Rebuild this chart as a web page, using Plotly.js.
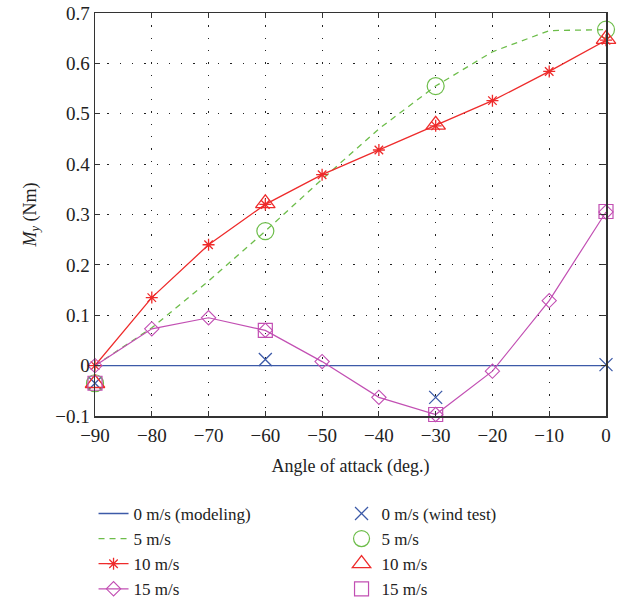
<!DOCTYPE html>
<html><head><meta charset="utf-8">
<script src="https://cdn.plot.ly/plotly-3.0.1.min.js"></script>
<style>html,body{margin:0;padding:0;background:#fff}#chart{width:632px;height:610px}</style>
</head><body><div id="chart"></div>
<script>
const angles = [-90, -80, -70, -60, -50, -40, -30, -20, -10, 0];
const model0 = [0, 0, 0, 0, 0, 0, 0, 0, 0, 0];
const model5 = [0, 0.075, 0.168, 0.267, 0.37, 0.47, 0.555, 0.623, 0.665, 0.667];
const model10 = [0, 0.135, 0.24, 0.32, 0.379, 0.428, 0.476, 0.526, 0.584, 0.646];
const model15 = [0, 0.073, 0.095, 0.07, 0.008, -0.063, -0.097, -0.011, 0.129, 0.305];
const testAngles = [-90, -60, -30, 0];
const test0 = [-0.035, 0.012, -0.063, 0.002];
const test5 = [-0.035, 0.267, 0.555, 0.667];
const test10 = [-0.035, 0.322, 0.478, 0.648];
const test15 = [-0.035, 0.07, -0.097, 0.306];
const xTicks = [-90, -80, -70, -60, -50, -40, -30, -20, -10, 0];
const yTicks = [-0.1, 0, 0.1, 0.2, 0.3, 0.4, 0.5, 0.6, 0.7];

const cBlue = '#3c5aa8', cGreen = '#6dbd4a', cRed = '#ee2b2b', cMag = '#c24fb3';

const traces = [
  {x: angles, y: model0, mode: 'lines', name: '0 m/s (modeling)', line: {color: cBlue, width: 1.3}},
  {x: testAngles, y: test0, mode: 'markers', name: '0 m/s (wind test)', marker: {symbol: 'x-thin-open', size: 13, color: cBlue, line: {color: cBlue, width: 1.3}}},
  {x: angles, y: model5, mode: 'lines', name: '5 m/s', line: {color: cGreen, width: 1.3, dash: '6px,5px'}},
  {x: testAngles, y: test5, mode: 'markers', name: '5 m/s', marker: {symbol: 'circle-open', size: 17, color: cGreen, line: {color: cGreen, width: 1.2}}},
  {x: angles, y: model10, mode: 'lines+markers', name: '10 m/s', line: {color: cRed, width: 1.3}, marker: {symbol: 'asterisk-open', size: 10, color: cRed, line: {color: cRed, width: 1.3}}},
  {x: testAngles, y: test10, mode: 'markers', name: '10 m/s', marker: {symbol: 'triangle-up-open', size: 17, color: cRed, line: {color: cRed, width: 1.3}}},
  {x: angles, y: model15, mode: 'lines+markers', name: '15 m/s', line: {color: cMag, width: 1.2}, marker: {symbol: 'diamond-open', size: 11, color: cMag, line: {color: cMag, width: 1.1}}},
  {x: testAngles, y: test15, mode: 'markers', name: '15 m/s', marker: {symbol: 'square-open', size: 14, color: cMag, line: {color: cMag, width: 1.2}}}
];
traces.forEach(t => t.cliponaxis = false);

const font = {family: 'Liberation Serif, serif', size: 18, color: '#222'};
const tickFont = {family: 'Liberation Serif, serif', size: 19, color: '#222'};
const legendFont = {family: 'Liberation Serif, serif', size: 17, color: '#222'};
const axisCommon = {
  showline: true, linecolor: '#333', linewidth: 1.5, mirror: 'ticks',
  ticks: 'inside', ticklen: 5, tickcolor: '#333', tickwidth: 1.2,
  showgrid: true, gridcolor: '#222', gridwidth: 1, griddash: '1.3px,11px',
  zeroline: false, tickfont: tickFont
};

const layout = {
  width: 632, height: 610,
  margin: {l: 95, r: 26, t: 13, b: 194},
  paper_bgcolor: '#fff', plot_bgcolor: '#fff',
  font: font,
  showlegend: true,
  xaxis: Object.assign({}, axisCommon, {
    range: [-90, 0], tickvals: xTicks, ticklabelstandoff: 2,
    title: {text: 'Angle of attack (deg.)', font: font, standoff: 14}
  }),
  yaxis: Object.assign({}, axisCommon, {
    range: [-0.1, 0.7], tickvals: yTicks, ticktext: yTicks.map(v => v === 0 ? '0' : (v < 0 ? '\u2212' + Math.abs(v).toFixed(1) : v.toFixed(1))),
    title: {text: '<i>M</i><sub><i>y</i></sub> (Nm)', font: font, standoff: 14}
  }),
  legend: {
    orientation: 'h', xref: 'container', yref: 'container',
    x: 0.148, xanchor: 'left', y: 0.187, yanchor: 'top',
    entrywidth: 203, entrywidthmode: 'pixels',
    font: legendFont, bgcolor: 'rgba(0,0,0,0)', traceorder: 'normal'
  }
};

Plotly.newPlot('chart', traces, layout, {displayModeBar: false, staticPlot: true});
</script></body></html>
